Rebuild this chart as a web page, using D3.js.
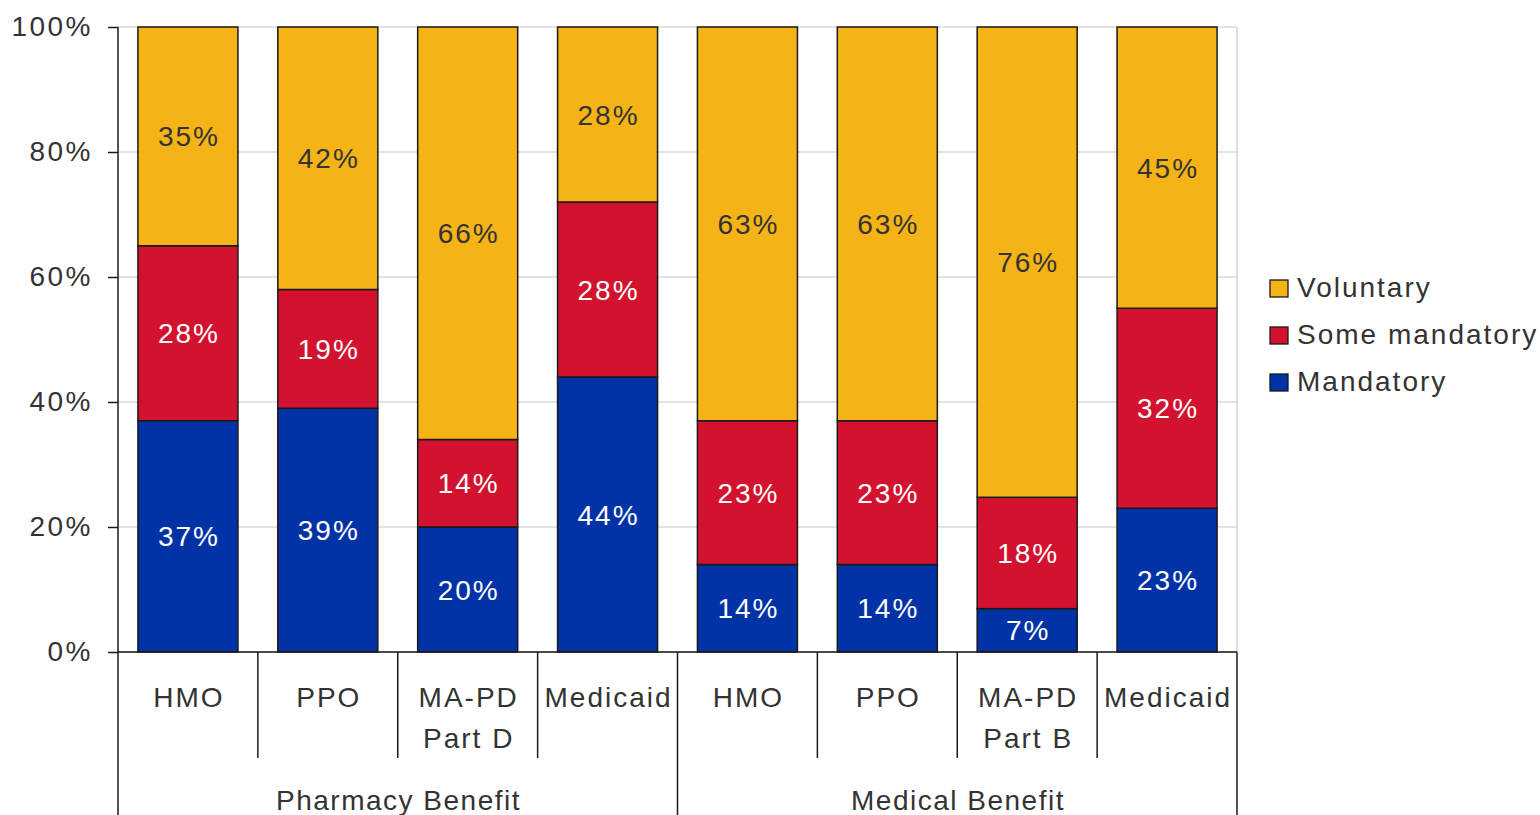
<!DOCTYPE html>
<html>
<head>
<meta charset="utf-8">
<script src="https://cdn.jsdelivr.net/npm/d3@7"></script>
<style>
  html, body { margin: 0; padding: 0; background: #fff; }
  svg { display: block; font-family: "Liberation Sans", Arial, sans-serif; }
</style>
</head>
<body>
<svg id="chart" width="1540" height="815"></svg>
<script>
// Plan types, grouped by benefit
const categories = ["HMO", "PPO", "MA-PD\nPart D", "Medicaid", "HMO", "PPO", "MA-PD\nPart B", "Medicaid"];
const groups = ["Pharmacy Benefit", "Medical Benefit"];
const groupSizes = [4, 4];

// Share of plans by policy type (percent)
const mandatory     = [37, 39, 20, 44, 14, 14, 7, 23];
const someMandatory = [28, 19, 14, 28, 23, 23, 18, 32];
const voluntary     = [35, 42, 66, 28, 63, 63, 76, 45];

const seriesNames = ["Mandatory", "Some mandatory", "Voluntary"];
const seriesColors = ["#0233A6", "#D2122E", "#F5B316"];
const labelColors = ["#ffffff", "#ffffff", "#333333"];
const yTicks = [0, 20, 40, 60, 80, 100];

const FS = 28, LS = 2;

const svg = d3.select("#chart");
const margin = { left: 118, right: 303, top: 27, bottom: 163 };
const W = 1540, H = 815;
const x0 = margin.left, x1 = W - margin.right, yTop = margin.top, yBot = H - margin.bottom;

const rows = categories.map((c, i) => ({
  key: i, cat: c,
  "Mandatory": mandatory[i],
  "Some mandatory": someMandatory[i],
  "Voluntary": voluntary[i]
}));

const x = d3.scaleBand().domain(d3.range(categories.length)).range([x0, x1]).paddingInner(0.285).paddingOuter(0.1425);
const xStep = d3.scaleBand().domain(d3.range(categories.length)).range([x0, x1]).padding(0);
const y = d3.scaleLinear().domain([0, 1]).range([yBot, yTop]);

const stack = d3.stack().keys(seriesNames).offset(d3.stackOffsetExpand);
const stacked = stack(rows);

// Gridlines
svg.append("g").selectAll("line").data(yTicks).join("line")
  .attr("x1", x0).attr("x2", x1)
  .attr("y1", d => y(d / 100)).attr("y2", d => y(d / 100))
  .attr("stroke", "#c8c8c8").attr("stroke-width", 1.2);

// Right border of plot area
svg.append("line").attr("x1", x1).attr("x2", x1).attr("y1", yTop).attr("y2", yBot)
  .attr("stroke", "#c8c8c8").attr("stroke-width", 1.2);

// Stacked bars
const layers = svg.append("g").selectAll("g").data(stacked).join("g")
  .attr("fill", (d, i) => seriesColors[i]);
layers.selectAll("rect").data(d => d).join("rect")
  .attr("x", (d, i) => x(i))
  .attr("width", x.bandwidth())
  .attr("y", d => y(d[1]))
  .attr("height", d => y(d[0]) - y(d[1]))
  .attr("stroke", "#1a1a1a").attr("stroke-width", 1.5);

// Value labels
svg.append("g").selectAll("g").data(stacked).join("g")
  .attr("fill", (d, i) => labelColors[i])
  .selectAll("text").data((d) => d.map((p, i) => ({ p, i, v: d.key }))).join("text")
  .attr("x", d => x(d.i) + x.bandwidth() / 2 + LS / 2)
  .attr("y", d => (y(d.p[0]) + y(d.p[1])) / 2)
  .attr("dy", "0.36em")
  .attr("text-anchor", "middle")
  .attr("font-size", FS)
  .attr("letter-spacing", LS)
  .text(d => d.p.data[d.v] + "%");

// Y axis
const yAxis = d3.axisLeft(d3.scaleLinear().domain([0, 100]).range([yBot, yTop]))
  .tickValues(yTicks).tickFormat(d => d + "%").tickSize(10).tickPadding(17 - LS);
const ya = svg.append("g").attr("transform", `translate(${x0},0)`).call(yAxis);
ya.select(".domain").remove();
ya.selectAll(".tick line").attr("stroke", "#1a1a1a").attr("stroke-width", 1.5);
ya.selectAll(".tick text").attr("font-size", FS).attr("fill", "#333").attr("letter-spacing", LS + 0.5)
  .attr("font-family", "Liberation Sans, Arial, sans-serif");

// Axis lines
svg.append("line").attr("x1", x0).attr("x2", x0).attr("y1", yTop).attr("y2", H)
  .attr("stroke", "#1a1a1a").attr("stroke-width", 1.5);
svg.append("line").attr("x1", x0).attr("x2", x1).attr("y1", yBot).attr("y2", yBot)
  .attr("stroke", "#1a1a1a").attr("stroke-width", 1.5);

// Category separators and group separators
let boundaries = [0];
groupSizes.forEach(s => boundaries.push(boundaries[boundaries.length - 1] + s));
for (let i = 1; i < categories.length; i++) {
  const isGroup = boundaries.includes(i);
  svg.append("line").attr("x1", xStep(i)).attr("x2", xStep(i))
    .attr("y1", yBot).attr("y2", isGroup ? H : 758)
    .attr("stroke", "#1a1a1a").attr("stroke-width", 1.5);
}
svg.append("line").attr("x1", x1).attr("x2", x1).attr("y1", yBot).attr("y2", H)
  .attr("stroke", "#1a1a1a").attr("stroke-width", 1.5);

// Category labels
svg.append("g").selectAll("text").data(categories).join("text")
  .attr("x", (d, i) => xStep(i) + xStep.bandwidth() / 2 + LS / 2)
  .attr("y", 707)
  .attr("text-anchor", "middle")
  .attr("font-size", FS).attr("fill", "#333").attr("letter-spacing", LS)
  .each(function (d) {
    const t = d3.select(this);
    d.split("\n").forEach((line, j) => {
      t.append("tspan").attr("x", t.attr("x")).attr("dy", j === 0 ? 0 : 41).text(line);
    });
  });

// Group labels
svg.append("g").selectAll("text").data(groups).join("text")
  .attr("x", (d, i) => {
    const a = boundaries[i], b = boundaries[i + 1];
    return (xStep(a) + xStep(b - 1) + xStep.bandwidth()) / 2 + 0.75;
  })
  .attr("y", 810)
  .attr("text-anchor", "middle")
  .attr("font-size", FS).attr("fill", "#333").attr("letter-spacing", 1.5)
  .text(d => d);

// Legend
const legendItems = ["Voluntary", "Some mandatory", "Mandatory"];
const legendColor = d3.scaleOrdinal().domain(seriesNames).range(seriesColors);
const lg = svg.append("g").selectAll("g").data(legendItems).join("g")
  .attr("transform", (d, i) => `translate(1270,${288 + i * 47})`);
lg.append("rect").attr("x", 0).attr("y", -8).attr("width", 18).attr("height", 17)
  .attr("fill", d => legendColor(d)).attr("stroke", "#1a1a1a").attr("stroke-width", 1.3);
lg.append("text").attr("x", 27).attr("y", -1).attr("dy", "0.36em")
  .attr("font-size", FS).attr("fill", "#333").attr("letter-spacing", LS)
  .text(d => d);
</script>
</body>
</html>
